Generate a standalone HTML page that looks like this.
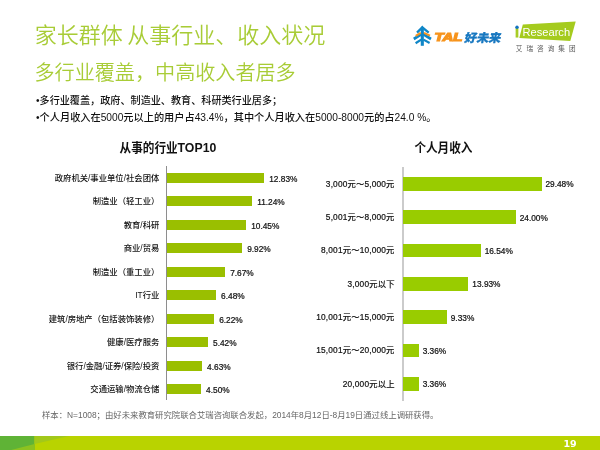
<!DOCTYPE html>
<html lang="zh-CN">
<head>
<meta charset="utf-8">
<title>家长群体 从事行业、收入状况</title>
<style>
html,body{margin:0;padding:0;}
body{width:600px;height:450px;position:relative;overflow:hidden;background:#fff;
  font-family:"Liberation Sans","Noto Sans CJK SC",sans-serif;color:#111;}
.abs{position:absolute;white-space:nowrap;}
.t1{left:34.7px;top:21.3px;font-size:22px;line-height:30px;color:#a8cc36;font-weight:350;word-spacing:-1.6px;}
.t2{left:34.5px;top:59px;font-size:20.1px;line-height:28px;color:#a8cc36;font-weight:350;}
.b{left:36px;font-size:10px;line-height:14px;color:#111;font-weight:500;}
.ct{font-size:11.6px;line-height:16px;font-weight:700;color:#111;transform:scaleY(1.09);transform-origin:50% 50%;}
.ct span{font-size:12.3px;}
.axis{position:absolute;width:1px;background:#8e8e8e;}
#c2 .axis{width:1.8px;background:#cbcbcb;margin-left:-0.9px;}
#c2 .bar{background:#99cc00;}
.bar{position:absolute;background:#9abf00;}
.lab{position:absolute;white-space:nowrap;font-size:8.33px;font-weight:500;line-height:12px;text-align:right;color:#111;}
.val{position:absolute;white-space:nowrap;font-size:8.3px;line-height:12px;color:#111;-webkit-text-stroke:0.22px #111;}
.note{left:42px;top:409px;font-size:8.37px;line-height:12px;color:#666;}
.foot{position:absolute;left:0;top:435.7px;width:600px;height:14.3px;}
.pg{right:23.4px;top:436.6px;font-size:9.5px;line-height:14px;font-weight:700;color:#fff;font-family:"DejaVu Sans","Liberation Sans",sans-serif;}
#c2 .lab{font-size:8.3px;letter-spacing:0.18px;font-weight:400;-webkit-text-stroke:0.2px #111;}
</style>
</head>
<body>
<div class="abs t1">家长群体 从事行业、收入状况</div>
<div class="abs t2">多行业覆盖，中高收入者居多</div>
<div class="abs b" style="top:94px;font-size:10.12px">•多行业覆盖，政府、制造业、教育、科研类行业居多；</div>
<div class="abs b" style="top:110.6px;font-size:10.2px">•个人月收入在5000元以上的用户占43.4%，其中个人月收入在5000-8000元的占24.0 %。</div>

<div class="abs ct" style="left:119.6px;top:139.9px">从事的行业<span>TOP10</span></div>
<div class="abs ct" style="left:414.4px;top:139.9px">个人月收入</div>

<!-- TAL logo -->
<svg class="abs" style="left:410px;top:22px" width="100" height="28" viewBox="410 22 100 28">
<g fill="none" stroke="#0f86c7" stroke-linecap="butt" stroke-linejoin="miter">
<path d="M422.3 28 V45.8" stroke-width="3.1"/>
<path d="M417 32.6 L422.3 27.4 L428.7 32.6" stroke-width="2.3"/>
<path d="M413.8 39 L422.3 33.6 L431 39" stroke-width="2.7"/>
<path d="M415.6 43.2 L421.2 39.6 M429.6 43 L423.5 39.6" stroke-width="2.2"/>
</g>
<polygon points="422.3,25.4 424.6,29.5 420,29.5" fill="#0f86c7"/>
<g fill="none" stroke="#f7941d" stroke-width="2">
<path d="M415.7 35.9 L420.7 32.9 M424 32.9 L430 35.6"/>
</g>
<text x="434.6" y="40.6" font-family="'Liberation Sans',sans-serif" font-weight="700" font-style="italic" font-size="10.2" fill="#f7941d" stroke="#f7941d" stroke-width="1.1" stroke-linejoin="miter" textLength="27.8" lengthAdjust="spacingAndGlyphs">TAL</text>
<text x="464.4" y="41.8" font-family="'Liberation Sans','Noto Sans CJK SC',sans-serif" font-weight="900" font-size="11.6" fill="#1878c0" stroke="#1878c0" stroke-width="0.3" textLength="36.4" lengthAdjust="spacingAndGlyphs" transform="translate(8.5 0) skewX(-12)">好未来</text>
</svg>
<!-- iResearch logo -->
<svg class="abs" style="left:510px;top:18px" width="70" height="38" viewBox="510 18 70 38">
<polygon points="522.8,24.5 575.7,21.4 570.3,41 519.3,37.9" fill="#a5cb1e"/>
<text x="515.15" y="37.3" font-family="'Liberation Sans',sans-serif" font-weight="700" font-size="12.6" fill="#a5cb1e" stroke="#a5cb1e" stroke-width="0.9">i</text>
<circle cx="517" cy="27.2" r="1.7" fill="#1272c4"/>
<text x="522.5" y="36.4" font-family="'Liberation Sans',sans-serif" font-size="11.8" fill="#fff" textLength="47.6" lengthAdjust="spacingAndGlyphs">Research</text>
<text x="515.8" y="50.7" font-family="'Liberation Sans','Noto Sans CJK SC',sans-serif" font-size="6.6" font-weight="400" fill="#5a5a5a" letter-spacing="4.05">艾瑞咨询集团</text>
</svg>
<!-- left chart -->
<div id="c1">
<div class="axis" style="left:166px;top:165.6px;height:234.7px"></div>
<div class="lab" style="right:440.7px;top:171.85px">政府机关/事业单位/社会团体</div>
<div class="bar" style="left:167px;top:172.65px;width:97.25px;height:10px"></div>
<div class="val" style="left:269.25px;top:172.65px">12.83%</div>
<div class="lab" style="right:440.7px;top:195.35px">制造业（轻工业）</div>
<div class="bar" style="left:167px;top:196.15px;width:85.20px;height:10px"></div>
<div class="val" style="left:257.20px;top:196.15px">11.24%</div>
<div class="lab" style="right:440.7px;top:218.85px">教育/科研</div>
<div class="bar" style="left:167px;top:219.65px;width:79.21px;height:10px"></div>
<div class="val" style="left:251.21px;top:219.65px">10.45%</div>
<div class="lab" style="right:440.7px;top:242.35px">商业/贸易</div>
<div class="bar" style="left:167px;top:243.15px;width:75.19px;height:10px"></div>
<div class="val" style="left:247.19px;top:243.15px">9.92%</div>
<div class="lab" style="right:440.7px;top:265.85px">制造业（重工业）</div>
<div class="bar" style="left:167px;top:266.65px;width:58.14px;height:10px"></div>
<div class="val" style="left:230.14px;top:266.65px">7.67%</div>
<div class="lab" style="right:440.7px;top:289.35px">IT行业</div>
<div class="bar" style="left:167px;top:290.15px;width:49.12px;height:10px"></div>
<div class="val" style="left:221.12px;top:290.15px">6.48%</div>
<div class="lab" style="right:440.7px;top:312.85px">建筑/房地产（包括装饰装修）</div>
<div class="bar" style="left:167px;top:313.65px;width:47.15px;height:10px"></div>
<div class="val" style="left:219.15px;top:313.65px">6.22%</div>
<div class="lab" style="right:440.7px;top:336.35px">健康/医疗服务</div>
<div class="bar" style="left:167px;top:337.15px;width:41.08px;height:10px"></div>
<div class="val" style="left:213.08px;top:337.15px">5.42%</div>
<div class="lab" style="right:440.7px;top:359.85px">银行/金融/证券/保险/投资</div>
<div class="bar" style="left:167px;top:360.65px;width:35.10px;height:10px"></div>
<div class="val" style="left:207.10px;top:360.65px">4.63%</div>
<div class="lab" style="right:440.7px;top:383.35px">交通运输/物流仓储</div>
<div class="bar" style="left:167px;top:384.15px;width:34.11px;height:10px"></div>
<div class="val" style="left:206.11px;top:384.15px">4.50%</div>
</div><!--/c1-->
<!-- right chart -->
<div id="c2">
<div class="axis" style="left:403px;top:166.5px;height:234.0px"></div>
<div class="lab" style="right:205.4px;top:177.70px">3,000元～5,000元</div>
<div class="bar" style="left:403.3px;top:177.05px;width:138.26px;height:13.7px"></div>
<div class="val" style="left:545.46px;top:178.30px">29.48%</div>
<div class="lab" style="right:205.4px;top:211.00px">5,001元～8,000元</div>
<div class="bar" style="left:403.3px;top:210.35px;width:112.50px;height:13.7px"></div>
<div class="val" style="left:519.70px;top:211.60px">24.00%</div>
<div class="lab" style="right:205.4px;top:244.30px">8,001元～10,000元</div>
<div class="bar" style="left:403.3px;top:243.65px;width:77.44px;height:13.7px"></div>
<div class="val" style="left:484.64px;top:244.90px">16.54%</div>
<div class="lab" style="right:205.4px;top:277.60px">3,000元以下</div>
<div class="bar" style="left:403.3px;top:276.95px;width:65.17px;height:13.7px"></div>
<div class="val" style="left:472.37px;top:278.20px">13.93%</div>
<div class="lab" style="right:205.4px;top:310.90px">10,001元～15,000元</div>
<div class="bar" style="left:403.3px;top:310.25px;width:43.55px;height:13.7px"></div>
<div class="val" style="left:450.75px;top:311.50px">9.33%</div>
<div class="lab" style="right:205.4px;top:344.20px">15,001元～20,000元</div>
<div class="bar" style="left:403.3px;top:343.55px;width:15.49px;height:13.7px"></div>
<div class="val" style="left:422.69px;top:344.80px">3.36%</div>
<div class="lab" style="right:205.4px;top:377.50px">20,000元以上</div>
<div class="bar" style="left:403.3px;top:376.85px;width:15.49px;height:13.7px"></div>
<div class="val" style="left:422.69px;top:378.10px">3.36%</div>
</div><!--/c2-->

<div class="abs note">样本：N=1008；由好未来教育研究院联合艾瑞咨询联合发起，2014年8月12日-8月19日通过线上调研获得。</div>

<svg class="foot" viewBox="0 0 600 15" preserveAspectRatio="none">
<rect x="0" y="0" width="600" height="15" fill="#b9d300"/>
<rect x="0" y="0" width="34.5" height="15" fill="#5fb336"/>
<polygon points="34.5,0 69,0 34.5,8.5" fill="#a2c81a"/>
<polygon points="34.5,8.5 34.5,15 10,15" fill="#8cc220"/>
</svg>
<div class="abs pg">19</div>
</body>
</html>
